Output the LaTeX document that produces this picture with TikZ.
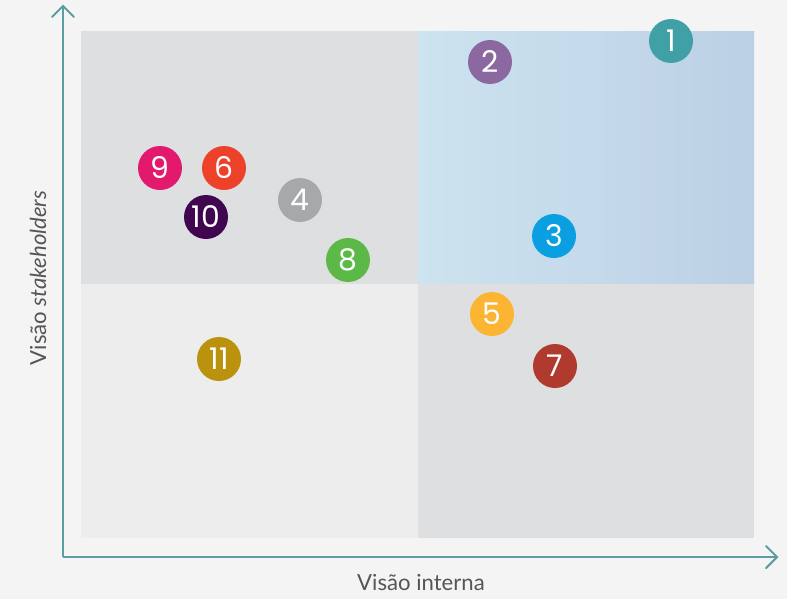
\documentclass[tikz,border=0pt]{standalone}
\usepackage{fontspec}
\setmainfont{Lato}
\newfontfamily\numfont{Poppins}
\definecolor{fundo}{HTML}{F4F4F4}
\definecolor{eixo}{HTML}{5A9EA3}
\definecolor{texto}{HTML}{555555}
\definecolor{quadA}{HTML}{DEDFE0}
\definecolor{quadB}{HTML}{EDEDED}
\definecolor{azulA}{HTML}{CDE3EF}
\definecolor{azulB}{HTML}{BCD0E5}
\definecolor{cor1}{HTML}{419FA6}
\definecolor{cor2}{HTML}{8B69A0}
\definecolor{cor3}{HTML}{0A9FE0}
\definecolor{cor4}{HTML}{A7A8AA}
\definecolor{cor5}{HTML}{FBB532}
\definecolor{cor6}{HTML}{EE412A}
\definecolor{cor7}{HTML}{B13A2E}
\definecolor{cor8}{HTML}{5DB947}
\definecolor{cor9}{HTML}{E2196D}
\definecolor{cor10}{HTML}{40064F}
\definecolor{cor11}{HTML}{BB920E}

\begin{document}
\begin{tikzpicture}[x=0.02cm,y=-0.02cm,
	bola/.style={circle,minimum size=0.88cm,inner sep=0pt,text=white,font=\numfont\fontsize{17}{17}\selectfont},
	rotulo/.style={text=texto,font=\fontsize{12.6}{12.6}\selectfont},
	eixos/.style={draw=eixo,line width=1.2pt},
	ponta/.style={eixos,line cap=round,line join=miter}]
			\fill[fundo] (0,0) rectangle (787,599);
			\useasboundingbox (0,0) rectangle (787,599);
			
			\fill[quadA] (81,31) rectangle (418,284);
			\shade[left color=azulA,right color=azulB] (418,31) rectangle (754,284);
			\fill[quadB] (81,284) rectangle (418,538);
			\fill[quadA] (418,284) rectangle (754,538);
			
			\coordinate (O) at (63,557);
			\coordinate (Y) at (63,6);
			\coordinate (X) at (777,557);
			\draw[eixos] (O)-- (Y);
			\draw[eixos] (O)-- (X);
			\draw[ponta] (52,17)-- (Y)-- (74,17);
			\draw[ponta] (766,546)-- (X)-- (766,568);
			
			\node[rotulo] (xlab) at (421,583) {Visão interna};
			\node[rotulo,rotate=90] (ylab) at (38,278) {Visão \textit{stakeholders}};
			
			\node[bola,fill=cor1] (c1) at (671,41) {1};
			\node[bola,fill=cor2] (c2) at (490,62) {2};
			\node[bola,fill=cor3] (c3) at (554,236) {3};
			\node[bola,fill=cor4] (c4) at (300,200) {4};
			\node[bola,fill=cor5] (c5) at (492,314) {5};
			\node[bola,fill=cor6] (c6) at (224,168) {6};
			\node[bola,fill=cor7] (c7) at (555,366) {7};
			\node[bola,fill=cor8] (c8) at (348,260) {8};
			\node[bola,fill=cor9] (c9) at (160,168) {9};
			\node[bola,fill=cor10] (c10) at (206,217) {10};
			\node[bola,fill=cor11] (c11) at (219,359) {11};
		\end{tikzpicture}
\end{document}
